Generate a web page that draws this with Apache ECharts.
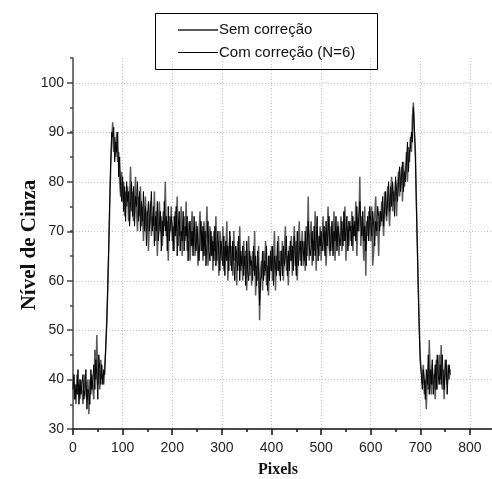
<!DOCTYPE html>
<html>
<head>
<meta charset="utf-8">
<script src="https://cdn.jsdelivr.net/npm/echarts@6/dist/echarts.min.js"></script>
<style>
html,body{margin:0;padding:0;background:#fff;overflow:hidden;width:492px;height:479px;}
#c{width:560px;height:479px;}
</style>
</head>
<body>
<div id="c"></div>
<script>
// pixel index of the first sample and spacing between samples
const PIXEL_START = 0;
const PIXEL_STEP = 2;

const seriesNames = ['Sem correção', 'Com correção (N=6)'];

const semCorrecao = [
  40, 36, 38, 35, 41, 37, 39, 36, 40, 38,
  35, 39, 41, 37, 36, 40, 33, 40, 37, 41,
  38, 36, 46, 40, 49, 39, 42, 38, 44, 40,
  41, 39, 43, 46, 52, 58, 66, 75, 83, 88,
  92, 86, 89, 85, 90, 84, 86, 80, 77, 82,
  76, 80, 73, 78, 75, 79, 72, 77, 83, 74,
  78, 72, 76, 81, 74, 70, 77, 73, 79, 71,
  75, 68, 73, 77, 70, 74, 66, 72, 76, 69,
  73, 71, 78, 68, 74, 65, 72, 76, 70, 73,
  67, 74, 71, 80, 69, 72, 64, 73, 70, 75,
  68, 71, 66, 74, 70, 77, 67, 72, 69, 75,
  65, 71, 73, 68, 76, 66, 70, 72, 64, 69,
  74, 67, 71, 65, 72, 69, 63, 70, 74, 66,
  70, 64, 72, 67, 69, 75, 63, 68, 71, 65,
  69, 62, 70, 66, 73, 64, 68, 61, 70, 67,
  64, 71, 62, 67, 65, 72, 60, 66, 69, 63,
  67, 61, 70, 64, 66, 59, 68, 63, 71, 62,
  65, 60, 68, 63, 66, 58, 64, 69, 61, 65,
  59, 66, 62, 70, 57, 63, 60, 67, 52, 62,
  64, 58, 66, 61, 68, 59, 63, 57, 65, 62,
  67, 60, 64, 70, 58, 65, 62, 69, 61, 66,
  63, 68, 60, 66, 71, 62, 65, 59, 67, 64,
  69, 61, 66, 71, 63, 68, 60, 67, 72, 64,
  66, 70, 63, 68, 62, 71, 65, 77, 64, 69,
  72, 63, 68, 66, 74, 62, 70, 67, 65, 71,
  64, 69, 73, 66, 70, 63, 68, 75, 67, 65,
  71, 66, 69, 74, 64, 70, 67, 72, 65, 69,
  73, 66, 70, 68, 75, 64, 71, 69, 67, 72,
  68, 74, 66, 71, 69, 76, 65, 72, 70, 81,
  67, 73, 70, 64, 75, 61, 72, 69, 74, 71,
  68, 75, 63, 66, 73, 77, 69, 72, 65, 74,
  71, 76, 73, 69, 78, 74, 72, 79, 75, 71,
  77, 81, 74, 78, 76, 80, 73, 79, 82, 77,
  80, 83, 76, 84, 79, 82, 86, 80, 87, 84,
  89, 86, 93, 96, 90, 86, 76, 67, 58, 50,
  44, 42, 39, 43, 37, 40, 34, 41, 38, 48,
  40, 37, 43, 39, 41, 36, 44, 38, 42, 45,
  40, 47, 38, 42, 36, 44, 41, 39, 43, 40,
  42
];

const comCorrecao = [
  38, 41, 36, 39, 37, 42, 35, 40, 37, 39,
  41, 36, 38, 42, 34, 38, 37, 35, 42, 38,
  40, 43, 38, 44, 41, 36, 45, 42, 39, 43,
  39, 42, 41, 47, 51, 59, 67, 76, 84, 90,
  89, 91, 84, 88, 86, 90, 81, 85, 79, 76,
  81, 74, 79, 72, 80, 76, 78, 71, 76, 80,
  73, 79, 71, 77, 75, 80, 72, 78, 70, 76,
  72, 78, 70, 75, 67, 73, 76, 70, 74, 78,
  70, 75, 67, 73, 70, 76, 68, 71, 74, 66,
  72, 69, 76, 70, 73, 66, 75, 68, 71, 73,
  71, 66, 73, 69, 75, 65, 71, 74, 66, 70,
  68, 74, 66, 71, 69, 73, 64, 70, 72, 67,
  70, 65, 73, 68, 66, 71, 67, 64, 69, 72,
  66, 71, 65, 70, 63, 68, 72, 66, 64, 70,
  65, 68, 64, 71, 63, 67, 70, 65, 62, 68,
  66, 63, 69, 61, 68, 64, 67, 62, 70, 65,
  62, 68, 64, 60, 67, 65, 62, 69, 60, 66,
  63, 67, 61, 65, 59, 68, 62, 60, 66, 63,
  64, 60, 67, 61, 65, 59, 66, 62, 55, 60,
  61, 66, 60, 64, 62, 67, 58, 65, 60, 66,
  62, 67, 59, 65, 63, 61, 68, 62, 64, 60,
  66, 61, 67, 63, 65, 69, 61, 66, 62, 68,
  64, 67, 62, 69, 65, 61, 70, 63, 66, 68,
  63, 68, 66, 64, 70, 63, 68, 72, 67, 65,
  67, 70, 64, 71, 65, 68, 73, 64, 69, 67,
  70, 66, 68, 71, 65, 72, 67, 70, 73, 66,
  68, 72, 65, 70, 68, 73, 66, 71, 69, 67,
  69, 72, 67, 74, 68, 70, 73, 66, 72, 70,
  71, 67, 73, 69, 72, 68, 75, 70, 73, 76,
  72, 69, 74, 68, 71, 66, 70, 73, 68, 75,
  72, 69, 74, 71, 67, 72, 70, 75, 73, 70,
  74, 72, 77, 71, 75, 78, 73, 76, 80, 74,
  79, 75, 80, 77, 73, 81, 78, 76, 80, 83,
  78, 81, 84, 78, 82, 80, 84, 88, 82, 86,
  87, 90, 88, 95, 91, 85, 75, 66, 57, 49,
  43, 41, 38, 42, 40, 36, 42, 39, 45, 37,
  42, 39, 44, 37, 40, 43, 38, 45, 41, 39,
  43, 39, 45, 41, 38, 42, 44, 37, 41, 43,
  41
];

const xTickLabels = ['0', '100', '200', '300', '400', '500', '600', '700', '800'];
const yTickLabels = ['30', '40', '50', '60', '70', '80', '90', '100'];
const xAxisTitle = 'Pixels';
const yAxisTitle = 'Nível de Cinza';

function pairs(vals) {
  return vals.map((v, i) => [PIXEL_START + i * PIXEL_STEP, v]);
}

const SANS = '"Liberation Sans", Arial, sans-serif';
const SERIF = '"Liberation Serif", "Times New Roman", serif';

const chart = echarts.init(document.getElementById('c'), null, {renderer: 'canvas'});

const gridLine = {show: true, lineStyle: {color: '#c4c4c4', width: 1, type: [1, 2]}};
const legendText = {fontSize: 15, fontFamily: SANS, color: '#111', lineHeight: 16, padding: [0, 0, 0, -4]};

chart.setOption({
  animation: false,
  backgroundColor: '#fff',
  grid: [
    {left: 73, top: 58, right: 40.4, bottom: 50, containLabel: false},
    {left: 73, top: 83.2, right: 40.4, bottom: 50, containLabel: false}
  ],
  legend: [
    {
      orient: 'vertical', left: 178, top: 22, padding: 0,
      icon: 'rect', itemWidth: 40, itemHeight: 2, itemGap: 0,
      data: [seriesNames[0]], textStyle: legendText, selectedMode: false
    },
    {
      orient: 'vertical', left: 178, top: 44.5, padding: 0,
      icon: 'rect', itemWidth: 40, itemHeight: 1, itemGap: 0,
      data: [seriesNames[1]], textStyle: legendText, selectedMode: false
    }
  ],
  xAxis: [
    {
      type: 'value', gridIndex: 0, min: 0, max: 900, interval: 100,
      axisLine: {show: true, lineStyle: {color: '#111', width: 1.5}},
      axisTick: {show: true, inside: false, length: 6, lineStyle: {color: '#111', width: 1.5}},
      minorTick: {show: true, splitNumber: 2, length: 3, lineStyle: {color: '#111', width: 1.5}},
      axisLabel: {
        show: true, margin: 12, fontSize: 14, fontFamily: SANS, color: '#222',
        formatter: function (v) { const s = String(v); return xTickLabels.indexOf(s) >= 0 ? s : ''; }
      },
      splitLine: gridLine,
      minorSplitLine: {show: false}
    },
    {
      type: 'value', gridIndex: 1, min: 0, max: 900, show: false
    }
  ],
  yAxis: [
    {
      type: 'value', gridIndex: 0, min: 30, max: 105, interval: 5,
      axisLine: {show: true, lineStyle: {color: '#4a4a4a', width: 1.5}},
      axisTick: {show: true, inside: false, length: 3, lineStyle: {color: '#4a4a4a', width: 1.5}},
      axisLabel: {show: false},
      splitLine: {show: false}
    },
    {
      type: 'value', gridIndex: 1, min: 30, max: 100, interval: 10,
      axisLine: {show: false},
      axisTick: {show: true, inside: false, length: 6, lineStyle: {color: '#4a4a4a', width: 1.5}},
      axisLabel: {
        show: true, margin: 9, fontSize: 14, fontFamily: SANS, color: '#222',
        formatter: function (v) { const s = String(v); return yTickLabels.indexOf(s) >= 0 ? s : ''; }
      },
      splitLine: gridLine
    }
  ],
  graphic: [
    {
      type: 'rect', shape: {x: 155.5, y: 13.5, width: 222, height: 56},
      style: {fill: 'none', stroke: '#000', lineWidth: 1}, silent: true, z: 10
    },
    {
      type: 'text', x: 278, y: 470,
      style: {text: xAxisTitle, font: 'bold 16px ' + SERIF, fill: '#111', align: 'center', verticalAlign: 'middle'}
    },
    {
      type: 'text', x: 30, y: 245, rotation: Math.PI / 2,
      style: {text: yAxisTitle, font: 'bold 21px ' + SERIF, fill: '#111', align: 'center', verticalAlign: 'middle'}
    }
  ],
  series: [
    {
      name: seriesNames[0], type: 'line', xAxisIndex: 0, yAxisIndex: 0,
      data: pairs(semCorrecao), symbol: 'none', showSymbol: false,
      lineStyle: {color: '#5a5a5a', width: 1.5}, itemStyle: {color: '#5a5a5a'}, z: 2
    },
    {
      name: seriesNames[1], type: 'line', xAxisIndex: 0, yAxisIndex: 0,
      data: pairs(comCorrecao), symbol: 'none', showSymbol: false,
      lineStyle: {color: '#000', width: 1}, itemStyle: {color: '#000'}, z: 3
    }
  ]
});
</script>
</body>
</html>
